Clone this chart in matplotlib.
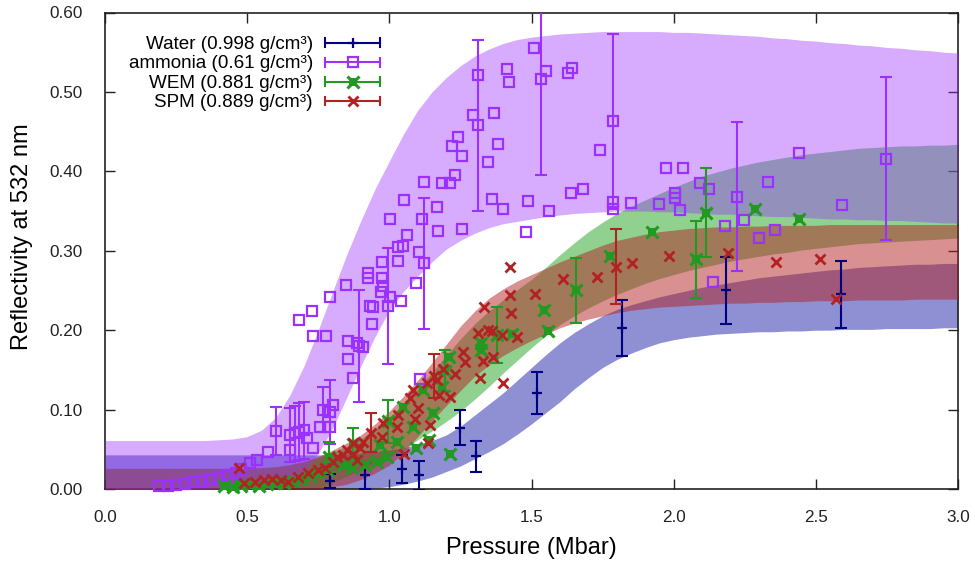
import numpy as np
import matplotlib
matplotlib.use('Agg')
import matplotlib.pyplot as plt
from matplotlib.lines import Line2D

plt.rcParams['font.family'] = ['Liberation Sans', 'DejaVu Sans']

# ---------------- model bands (pressure grid, lower/upper reflectivity) ----------------
band_p = [0.00, 0.05, 0.10, 0.15, 0.20, 0.25, 0.30, 0.35, 0.40, 0.45, 0.50, 0.55, 0.60,
          0.65, 0.70, 0.75, 0.80, 0.85, 0.90, 0.95, 1.00, 1.05, 1.10, 1.15, 1.20, 1.25,
          1.30, 1.35, 1.40, 1.45, 1.50, 1.55, 1.60, 1.65, 1.70, 1.75, 1.80, 1.85, 1.90,
          1.95, 2.00, 2.05, 2.10, 2.15, 2.20, 2.25, 2.30, 2.35, 2.40, 2.45, 2.50, 2.55,
          2.60, 2.65, 2.70, 2.75, 2.80, 2.85, 2.90, 2.95, 3.00]
amm_hi = [0.061, 0.061, 0.061, 0.061, 0.061, 0.061, 0.061, 0.061, 0.062, 0.063, 0.066, 0.074,
          0.090, 0.118, 0.155, 0.200, 0.248, 0.295, 0.338, 0.378, 0.413, 0.447, 0.477, 0.500,
          0.518, 0.533, 0.545, 0.554, 0.561, 0.566, 0.569, 0.571, 0.573, 0.574, 0.575, 0.576,
          0.576, 0.576, 0.576, 0.576, 0.575, 0.575, 0.574, 0.573, 0.572, 0.571, 0.570, 0.568,
          0.567, 0.565, 0.564, 0.562, 0.561, 0.559, 0.558, 0.556, 0.555, 0.553, 0.552, 0.550,
          0.549]
amm_lo = [0, 0, 0, 0, 0, 0, 0, 0, 0, 0, 0, 0, 0.002, 0.008, 0.022, 0.045, 0.076, 0.115,
          0.155, 0.192, 0.225, 0.249, 0.268, 0.286, 0.302, 0.313, 0.322, 0.329, 0.334, 0.337,
          0.340, 0.343, 0.345, 0.347, 0.348, 0.349, 0.350, 0.350, 0.350, 0.349, 0.349, 0.348,
          0.347, 0.346, 0.346, 0.345, 0.344, 0.343, 0.343, 0.342, 0.341, 0.340, 0.340, 0.339,
          0.339, 0.338, 0.338, 0.337, 0.336, 0.335, 0.335]
wat_hi = [0.043, 0.043, 0.043, 0.043, 0.043, 0.043, 0.043, 0.043, 0.043, 0.043, 0.043, 0.043,
          0.043, 0.043, 0.043, 0.043, 0.043, 0.044, 0.045, 0.047, 0.049, 0.052, 0.056, 0.061,
          0.068, 0.079, 0.093, 0.107, 0.121, 0.137, 0.153, 0.169, 0.184, 0.197, 0.208, 0.218,
          0.226, 0.232, 0.237, 0.242, 0.246, 0.250, 0.254, 0.257, 0.260, 0.263, 0.266, 0.268,
          0.270, 0.272, 0.274, 0.276, 0.277, 0.279, 0.280, 0.281, 0.282, 0.283, 0.283, 0.284,
          0.284]
wat_lo = [0, 0, 0, 0, 0, 0, 0, 0, 0, 0, 0, 0, 0, 0, 0, 0, 0, 0, 0, 0.001, 0.003, 0.006,
          0.010, 0.015, 0.022, 0.029, 0.038, 0.047, 0.057, 0.069, 0.082, 0.096, 0.110, 0.126,
          0.140, 0.153, 0.163, 0.171, 0.178, 0.184, 0.188, 0.191, 0.193, 0.195, 0.196, 0.197,
          0.198, 0.198, 0.199, 0.199, 0.200, 0.200, 0.201, 0.201, 0.201, 0.202, 0.202, 0.202,
          0.202, 0.203, 0.203]
spm_hi = [0.026, 0.026, 0.026, 0.026, 0.026, 0.026, 0.026, 0.026, 0.026, 0.026, 0.026, 0.027,
          0.028, 0.031, 0.035, 0.041, 0.049, 0.058, 0.068, 0.082, 0.098, 0.117, 0.137, 0.159,
          0.182, 0.205, 0.224, 0.240, 0.252, 0.262, 0.270, 0.278, 0.286, 0.293, 0.300, 0.307,
          0.313, 0.317, 0.321, 0.324, 0.326, 0.328, 0.329, 0.330, 0.330, 0.331, 0.331, 0.332,
          0.332, 0.332, 0.332, 0.333, 0.333, 0.333, 0.333, 0.333, 0.333, 0.333, 0.333, 0.333,
          0.333]
spm_lo = [0, 0, 0, 0, 0, 0, 0, 0, 0, 0, 0, 0, 0, 0, 0, 0, 0.003, 0.006, 0.012, 0.020, 0.030,
          0.046, 0.066, 0.086, 0.105, 0.124, 0.142, 0.156, 0.168, 0.178, 0.187, 0.195, 0.203,
          0.209, 0.214, 0.218, 0.222, 0.225, 0.227, 0.229, 0.230, 0.231, 0.232, 0.233, 0.234,
          0.234, 0.235, 0.235, 0.236, 0.236, 0.237, 0.237, 0.237, 0.238, 0.238, 0.238, 0.238,
          0.239, 0.239, 0.239, 0.239]
wem_hi = [0.026, 0.026, 0.026, 0.026, 0.026, 0.026, 0.026, 0.026, 0.026, 0.026, 0.026, 0.027,
          0.028, 0.030, 0.034, 0.039, 0.046, 0.054, 0.063, 0.075, 0.090, 0.108, 0.127, 0.147,
          0.168, 0.189, 0.208, 0.224, 0.238, 0.251, 0.264, 0.279, 0.295, 0.310, 0.324, 0.336,
          0.347, 0.356, 0.364, 0.372, 0.380, 0.387, 0.394, 0.399, 0.404, 0.408, 0.412, 0.415,
          0.418, 0.421, 0.423, 0.425, 0.427, 0.429, 0.430, 0.431, 0.432, 0.432, 0.433, 0.433,
          0.434]
wem_lo = [0, 0, 0, 0, 0, 0, 0, 0, 0, 0, 0, 0, 0, 0, 0, 0, 0.008, 0.016, 0.024, 0.032, 0.040,
          0.050, 0.062, 0.073, 0.085, 0.098, 0.113, 0.129, 0.146, 0.162, 0.178, 0.193, 0.207,
          0.218, 0.228, 0.237, 0.245, 0.252, 0.259, 0.265, 0.270, 0.275, 0.279, 0.283, 0.287,
          0.290, 0.293, 0.296, 0.298, 0.301, 0.303, 0.305, 0.307, 0.309, 0.310, 0.311, 0.312,
          0.313, 0.314, 0.315, 0.316]

# ---------------- Water data (all with error bars) ----------------
wat_p = [0.79, 0.915, 1.045, 1.105, 1.25, 1.305, 1.52, 1.82, 2.185, 2.59]
wat_r = [0.010, 0.017, 0.025, 0.017, 0.077, 0.041, 0.121, 0.203, 0.250, 0.245]
wat_e = [0.009, 0.017, 0.018, 0.018, 0.022, 0.020, 0.026, 0.035, 0.042, 0.042]

# ---------------- Ammonia data ----------------
amm_p = [1.509, 1.551, 1.312, 1.414, 1.421, 1.294, 1.368, 1.382, 1.347, 1.242, 1.221, 1.256,
         1.122, 1.185, 1.214, 1.231, 1.052, 1.168, 1.115, 1.002, 1.062, 1.171, 1.256, 1.361,
         1.400, 1.488, 1.562, 1.481, 1.639, 1.681, 1.629, 1.643, 1.741, 1.787, 1.787, 1.850,
         1.949, 1.973, 2.033, 2.005, 2.005, 2.093, 2.125, 2.022, 2.181, 2.248, 2.300, 2.357,
         2.332, 2.441, 2.139, 2.592,
         1.031, 1.048, 1.104, 1.031, 0.974, 0.925, 0.925, 0.974, 0.978, 0.971, 1.002, 0.932,
         0.943, 1.041, 1.094, 0.939, 0.848, 0.791, 0.682, 0.728, 0.732, 0.777, 0.855, 0.907,
         0.886, 0.855, 0.872, 1.108, 0.802, 0.791, 0.756, 0.711, 0.732, 0.651, 0.573, 0.535,
         0.510,
         0.19, 0.22, 0.25, 0.28, 0.31, 0.34, 0.37, 0.40, 0.43, 0.46, 0.48]
amm_r = [0.555, 0.526, 0.521, 0.529, 0.513, 0.471, 0.474, 0.435, 0.412, 0.443, 0.432, 0.419,
         0.387, 0.385, 0.385, 0.395, 0.364, 0.355, 0.340, 0.340, 0.320, 0.325, 0.327, 0.365,
         0.353, 0.363, 0.350, 0.324, 0.373, 0.378, 0.524, 0.530, 0.427, 0.361, 0.353, 0.360,
         0.359, 0.404, 0.404, 0.373, 0.367, 0.385, 0.378, 0.351, 0.331, 0.339, 0.316, 0.326,
         0.387, 0.423, 0.261, 0.358,
         0.305, 0.306, 0.298, 0.287, 0.286, 0.272, 0.266, 0.266, 0.256, 0.248, 0.242, 0.230,
         0.229, 0.237, 0.259, 0.208, 0.257, 0.242, 0.213, 0.224, 0.193, 0.193, 0.186, 0.179,
         0.184, 0.164, 0.140, 0.139, 0.106, 0.078, 0.078, 0.064, 0.052, 0.049, 0.047, 0.037,
         0.033,
         0.004, 0.004, 0.005, 0.006, 0.009, 0.010, 0.012, 0.014, 0.017, 0.020, 0.025]
amm_ep = [1.534, 1.312, 1.122, 0.995, 0.893, 1.787, 2.223, 2.747, 0.601, 0.651, 0.668, 0.682,
          0.700, 0.767, 0.791]
amm_er = [0.516, 0.458, 0.284, 0.230, 0.180, 0.463, 0.368, 0.416, 0.073, 0.068, 0.070, 0.072,
          0.074, 0.100, 0.097]
amm_ee = [0.120, 0.108, 0.082, 0.073, 0.070, 0.110, 0.094, 0.103, 0.030, 0.034, 0.035, 0.036,
          0.036, 0.028, 0.040]

# ---------------- WEM data ----------------
wem_p = [1.776, 1.544, 1.558, 1.432, 1.323, 1.323, 1.210, 1.185, 1.154, 1.140, 1.094, 1.214,
         1.083, 1.048, 1.119, 0.967, 1.027, 0.992, 0.957, 0.915, 0.840, 0.870, 0.802, 1.924,
         2.286, 2.441,
         0.42, 0.45, 0.48, 0.51, 0.54, 0.57, 0.60, 0.63, 0.66, 0.69, 0.72, 0.75, 0.78]
wem_r = [0.293, 0.225, 0.199, 0.195, 0.184, 0.175, 0.166, 0.128, 0.096, 0.062, 0.052, 0.044,
         0.078, 0.103, 0.125, 0.055, 0.059, 0.040, 0.034, 0.030, 0.030, 0.026, 0.033, 0.324,
         0.353, 0.340,
         0.004, 0.003, 0.004, 0.005, 0.004, 0.006, 0.007, 0.008, 0.010, 0.013, 0.016, 0.020, 0.024]
wem_ep = [1.657, 1.379, 1.196, 0.995, 0.872, 0.788, 2.079, 2.114]
wem_er = [0.250, 0.194, 0.149, 0.085, 0.057, 0.040, 0.289, 0.348]
wem_ee = [0.041, 0.035, 0.026, 0.027, 0.020, 0.019, 0.048, 0.056]

# ---------------- SPM data ----------------
spm_p = [1.425, 1.854, 1.731, 1.611, 1.512, 1.428, 1.425, 1.333, 1.312, 1.347, 1.361, 1.396,
         1.449, 1.259, 1.266, 1.330, 1.365, 1.319, 1.400, 1.231, 1.214, 1.189, 1.168, 1.175,
         1.133, 1.101, 1.083, 1.073, 1.090, 1.143, 1.136, 1.052, 1.031, 1.027, 0.978, 0.974,
         0.907, 0.897, 0.872, 0.851, 0.837, 0.816, 0.802, 0.872, 0.886, 1.984, 2.191, 2.360,
         2.515, 2.571, 0.471,
         0.49, 0.527, 0.56, 0.586, 0.62, 0.645, 0.68, 0.715, 0.75, 0.773]
spm_r = [0.280, 0.285, 0.267, 0.264, 0.246, 0.222, 0.244, 0.229, 0.196, 0.200, 0.199, 0.194,
         0.191, 0.173, 0.160, 0.161, 0.166, 0.140, 0.133, 0.145, 0.116, 0.151, 0.137, 0.118,
         0.134, 0.102, 0.125, 0.115, 0.088, 0.081, 0.058, 0.044, 0.093, 0.078, 0.083, 0.065,
         0.059, 0.052, 0.058, 0.049, 0.043, 0.040, 0.034, 0.044, 0.037, 0.293, 0.297, 0.286,
         0.290, 0.239, 0.026,
         0.007, 0.009, 0.011, 0.013, 0.011, 0.009, 0.015, 0.020, 0.024, 0.026]
spm_ep = [1.797, 1.157, 0.936]
spm_er = [0.280, 0.142, 0.071]
spm_ee = [0.047, 0.028, 0.025]

labels = ['Water (0.998 g/cm³)', 'ammonia (0.61 g/cm³)',
          'WEM (0.881 g/cm³)', 'SPM (0.889 g/cm³)']

# ---------------- styles ----------------
C_WAT, C_AMM, C_WEM, C_SPM = '#000080', '#9b30ff', '#229a22', '#b22222'
F_WAT, F_AMM, F_WEM, F_SPM = '#1f23a9', '#9b30ff', '#22a522', '#b22222'

MK_WAT = [dict(marker='+', ms=7, mew=1.6, mec=C_WAT)]
MK_AMM = [dict(marker='s', ms=7.5, mfc='none', mew=1.6, mec=C_AMM)]
MK_WEM = [dict(marker='s', ms=5.5, mfc=C_WEM, mew=0), dict(marker='x', ms=8, mew=2.2, mec=C_WEM)]
MK_SPM = [dict(marker='x', ms=7, mew=2.0, mec=C_SPM)]

W, H = 975, 563
fig = plt.figure(figsize=(W / 100, H / 100), dpi=100)
ax_l, ax_r, ax_t, ax_b = 105, 958, 12.5, 489
ax = fig.add_axes([ax_l / W, 1 - ax_b / H, (ax_r - ax_l) / W, (ax_b - ax_t) / H])

ax.fill_between(band_p, wat_lo, wat_hi, color=F_WAT, alpha=0.5, lw=0, zorder=1)
ax.fill_between(band_p, wem_lo, wem_hi, color=F_WEM, alpha=0.5, lw=0, zorder=2)
ax.fill_between(band_p, spm_lo, spm_hi, color=F_SPM, alpha=0.5, lw=0, zorder=3)
ax.fill_between(band_p, amm_lo, amm_hi, color=F_AMM, alpha=0.4, lw=0, zorder=4)

eb = dict(fmt='none', elinewidth=1.5, capsize=4.5, capthick=1.5)


def series(px, py, ex, ey, ee, col, mks, z):
    ax.errorbar(ex, ey, yerr=ee, ecolor=col, zorder=z, **eb)
    for mk in mks:
        ax.plot(list(px) + list(ex), list(py) + list(ey), ls='none', zorder=z,
                clip_on=False, **mk)


series([], [], wat_p, wat_r, wat_e, C_WAT, MK_WAT, 5)
series(amm_p, amm_r, amm_ep, amm_er, amm_ee, C_AMM, MK_AMM, 6)
series(wem_p, wem_r, wem_ep, wem_er, wem_ee, C_WEM, MK_WEM, 7)
series(spm_p, spm_r, spm_ep, spm_er, spm_ee, C_SPM, MK_SPM, 8)

ax.set_xlim(0, 3)
ax.set_ylim(0, 0.6)
ax.set_xticks([0, 0.5, 1.0, 1.5, 2.0, 2.5, 3.0])
ax.set_xticklabels(['0.0', '0.5', '1.0', '1.5', '2.0', '2.5', '3.0'])
ax.set_yticks([0, 0.1, 0.2, 0.3, 0.4, 0.5, 0.6])
ax.set_yticklabels(['0.00', '0.10', '0.20', '0.30', '0.40', '0.50', '0.60'])
ax.tick_params(direction='in', length=7, width=1.0, top=True, right=True,
               labelsize=12.3, colors='#222222')
ax.tick_params(axis='x', pad=15)
ax.tick_params(axis='y', pad=16)
for s in ax.spines.values():
    s.set_linewidth(1.2)
    s.set_color('#222222')

fig.text(531.5 / W, 1 - 548 / H, 'Pressure (Mbar)', ha='center', va='center', fontsize=17)
fig.text(22 / W, 1 - 237 / H, 'Reflectivity at 532 nm', ha='center', va='center',
         rotation=90, fontsize=17)

# ---------------- gnuplot-style key ----------------
key_y = [42.7, 62.3, 81.7, 101.0]
key_cols = [C_WAT, C_AMM, C_WEM, C_SPM]
key_mk = [MK_WAT, MK_AMM, MK_WEM, MK_SPM]
x0, x1, xt = 325, 380, 313
for lab, yk, col, mks in zip(labels, key_y, key_cols, key_mk):
    fy = 1 - yk / H
    fig.add_artist(Line2D([x0 / W, x1 / W], [fy, fy], color=col, lw=1.5,
                          transform=fig.transFigure))
    for xc in (x0, x1):
        fig.add_artist(Line2D([xc / W, xc / W], [fy - 4.5 / H, fy + 4.5 / H], color=col,
                              lw=1.5, transform=fig.transFigure))
    for mk in mks:
        fig.add_artist(Line2D([(x0 + x1) / 2 / W], [fy], ls='none',
                              transform=fig.transFigure, **mk))
    fig.text(xt / W, 1 - (yk + 6.0) / H, lab, ha='right', va='baseline', fontsize=13.6)

fig.savefig('out.png', dpi=100)
